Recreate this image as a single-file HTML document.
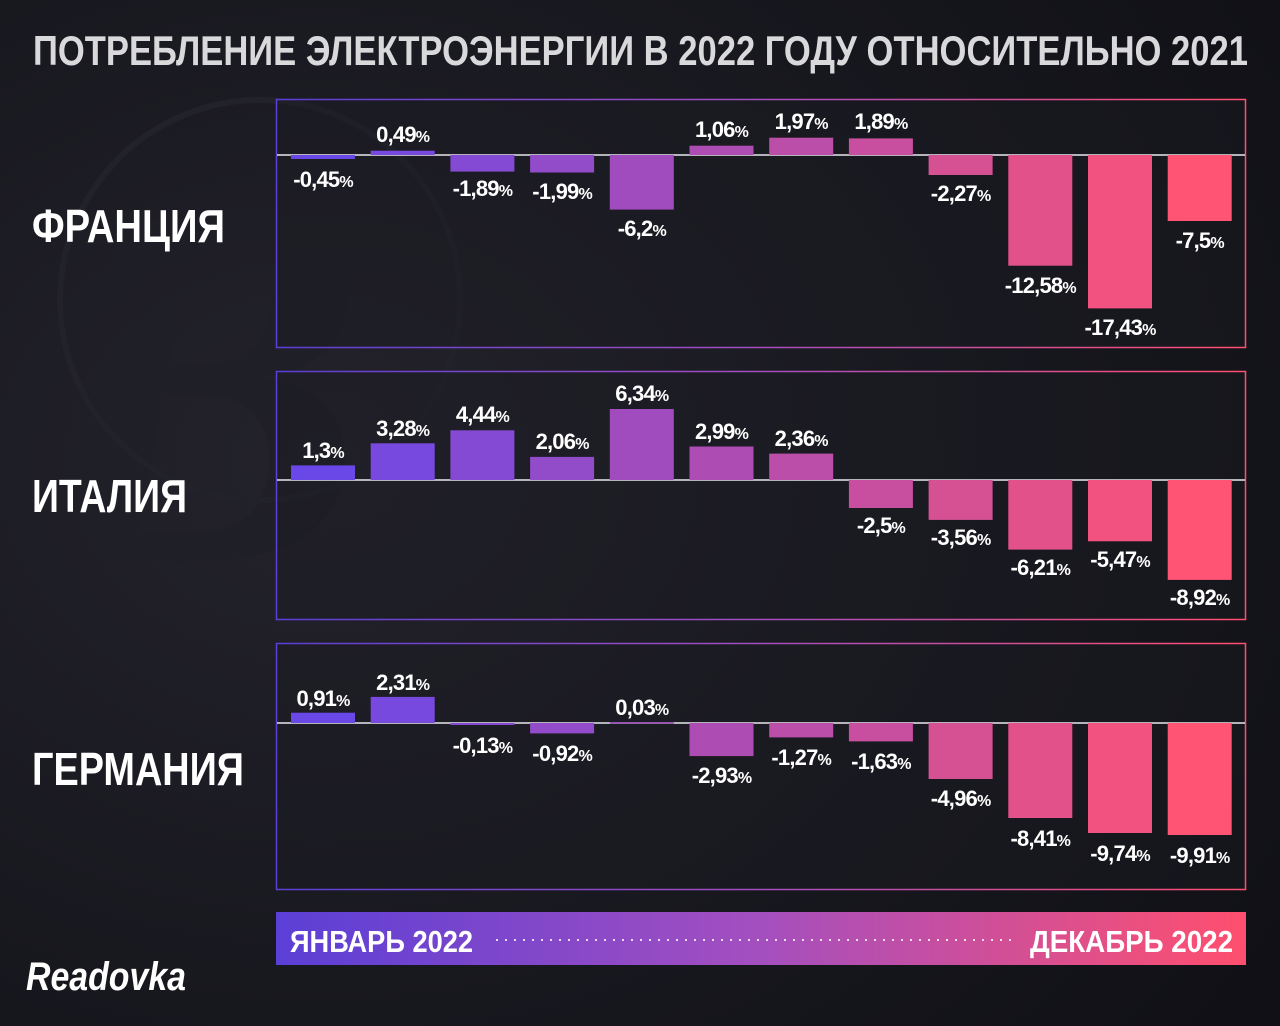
<!DOCTYPE html>
<html><head><meta charset="utf-8">
<style>
html,body{margin:0;padding:0;background:#14141b;}
svg{display:block;}
.t{font-family:"Liberation Sans Narrow","Liberation Sans",sans-serif;font-weight:bold;fill:#fff;}
</style></head>
<body>
<svg width="1280" height="1026" viewBox="0 0 1280 1026" xmlns="http://www.w3.org/2000/svg">
<defs>
<radialGradient id="bg" cx="0.25" cy="0.45" r="0.9">
<stop offset="0" stop-color="#24232c"/><stop offset="0.6" stop-color="#17171e"/><stop offset="1" stop-color="#101016"/>
</radialGradient>
<linearGradient id="hg" x1="0" x2="1" y1="0" y2="0">
<stop offset="0" stop-color="#5b3fd6"/><stop offset="0.5" stop-color="#a44fbf"/><stop offset="1" stop-color="#ff4f6e"/>
</linearGradient>
</defs>
<rect width="1280" height="1026" fill="url(#bg)"/>
<text x="20" y="560" font-family="Liberation Serif,serif" font-style="italic" font-weight="bold" font-size="520" fill="#1f1f27" opacity="0.7">B</text>
<circle cx="260" cy="300" r="200" fill="none" stroke="#22222a" stroke-width="6"/>

<text x="33" y="65" class="t" style="fill:#d9d9dc" font-size="42" textLength="1215" lengthAdjust="spacingAndGlyphs">ПОТРЕБЛЕНИЕ ЭЛЕКТРОЭНЕРГИИ В 2022 ГОДУ ОТНОСИТЕЛЬНО 2021</text>

<g class="t" font-size="46">
<text x="32" y="242" textLength="193" lengthAdjust="spacingAndGlyphs">ФРАНЦИЯ</text>
<text x="32" y="512" textLength="155" lengthAdjust="spacingAndGlyphs">ИТАЛИЯ</text>
<text x="32" y="785" textLength="212" lengthAdjust="spacingAndGlyphs">ГЕРМАНИЯ</text>
</g>

<!-- panels -->
<g fill="#1b1b22" fill-opacity="0.4" stroke="url(#hg)" stroke-width="1.5">
<rect x="276.5" y="99.5" width="969" height="248"/>
<rect x="276.5" y="371.5" width="969" height="248"/>
<rect x="276.5" y="643.5" width="969" height="246"/>
</g>
<g stroke="#e8e8ee" stroke-width="1.5">
<line x1="277" x2="1245" y1="155" y2="155"/>
<line x1="277" x2="1245" y1="480" y2="480"/>
<line x1="277" x2="1245" y1="723" y2="723"/>
</g>

<!-- FRANCE -->
<g>
<rect x="291" y="155" width="64" height="4" fill="#6a48e8"/>
<rect x="370.7" y="150.7" width="64" height="4.3" fill="#7749de"/>
<rect x="450.4" y="155" width="64" height="16.6" fill="#854ad3"/>
<rect x="530.1" y="155" width="64" height="17.5" fill="#924bc9"/>
<rect x="609.8" y="155" width="64" height="54.6" fill="#a04cbe"/>
<rect x="689.5" y="145.7" width="64" height="9.3" fill="#ad4db4"/>
<rect x="769.2" y="137.7" width="64" height="17.3" fill="#bb4ea9"/>
<rect x="848.9" y="138.4" width="64" height="16.6" fill="#c84f9f"/>
<rect x="928.6" y="155" width="64" height="20" fill="#d65094"/>
<rect x="1008.3" y="155" width="64" height="110.7" fill="#e3518a"/>
<rect x="1088" y="155" width="64" height="153.4" fill="#f1527f"/>
<rect x="1167.7" y="155" width="64" height="66" fill="#ff5474"/>
</g>
<g class="t" font-size="22" text-anchor="middle" letter-spacing="-0.8">
<text x="323" y="187">-0,45<tspan font-size="16">%</tspan></text>
<text x="402.7" y="142">0,49<tspan font-size="16">%</tspan></text>
<text x="482.4" y="196">-1,89<tspan font-size="16">%</tspan></text>
<text x="562.1" y="199">-1,99<tspan font-size="16">%</tspan></text>
<text x="641.8" y="236">-6,2<tspan font-size="16">%</tspan></text>
<text x="721.5" y="137">1,06<tspan font-size="16">%</tspan></text>
<text x="801.2" y="129">1,97<tspan font-size="16">%</tspan></text>
<text x="880.9" y="129">1,89<tspan font-size="16">%</tspan></text>
<text x="960.6" y="201">-2,27<tspan font-size="16">%</tspan></text>
<text x="1040.3" y="293">-12,58<tspan font-size="16">%</tspan></text>
<text x="1120" y="335">-17,43<tspan font-size="16">%</tspan></text>
<text x="1199.7" y="248">-7,5<tspan font-size="16">%</tspan></text>
</g>

<!-- ITALY -->
<g>
<rect x="291" y="465.4" width="64" height="14.6" fill="#6a48e8"/>
<rect x="370.7" y="443.3" width="64" height="36.7" fill="#7749de"/>
<rect x="450.4" y="430.3" width="64" height="49.7" fill="#854ad3"/>
<rect x="530.1" y="456.9" width="64" height="23.1" fill="#924bc9"/>
<rect x="609.8" y="409" width="64" height="71" fill="#a04cbe"/>
<rect x="689.5" y="446.5" width="64" height="33.5" fill="#ad4db4"/>
<rect x="769.2" y="453.6" width="64" height="26.4" fill="#bb4ea9"/>
<rect x="848.9" y="480" width="64" height="28" fill="#c84f9f"/>
<rect x="928.6" y="480" width="64" height="39.9" fill="#d65094"/>
<rect x="1008.3" y="480" width="64" height="69.6" fill="#e3518a"/>
<rect x="1088" y="480" width="64" height="61.3" fill="#f1527f"/>
<rect x="1167.7" y="480" width="64" height="99.9" fill="#ff5474"/>
</g>
<g class="t" font-size="22" text-anchor="middle" letter-spacing="-0.8">
<text x="323" y="458">1,3<tspan font-size="16">%</tspan></text>
<text x="402.7" y="436">3,28<tspan font-size="16">%</tspan></text>
<text x="482.4" y="422">4,44<tspan font-size="16">%</tspan></text>
<text x="562.1" y="449">2,06<tspan font-size="16">%</tspan></text>
<text x="641.8" y="401">6,34<tspan font-size="16">%</tspan></text>
<text x="721.5" y="439">2,99<tspan font-size="16">%</tspan></text>
<text x="801.2" y="446">2,36<tspan font-size="16">%</tspan></text>
<text x="880.9" y="533">-2,5<tspan font-size="16">%</tspan></text>
<text x="960.6" y="545">-3,56<tspan font-size="16">%</tspan></text>
<text x="1040.3" y="575">-6,21<tspan font-size="16">%</tspan></text>
<text x="1120" y="567">-5,47<tspan font-size="16">%</tspan></text>
<text x="1199.7" y="605">-8,92<tspan font-size="16">%</tspan></text>
</g>

<!-- GERMANY -->
<g>
<rect x="291" y="712.7" width="64" height="10.3" fill="#6a48e8"/>
<rect x="370.7" y="696.9" width="64" height="26.1" fill="#7749de"/>
<rect x="450.4" y="723" width="64" height="2" fill="#854ad3"/>
<rect x="530.1" y="723" width="64" height="10.4" fill="#924bc9"/>
<rect x="609.8" y="722" width="64" height="1.5" fill="#a04cbe"/>
<rect x="689.5" y="723" width="64" height="33.1" fill="#ad4db4"/>
<rect x="769.2" y="723" width="64" height="14.4" fill="#bb4ea9"/>
<rect x="848.9" y="723" width="64" height="18.4" fill="#c84f9f"/>
<rect x="928.6" y="723" width="64" height="56" fill="#d65094"/>
<rect x="1008.3" y="723" width="64" height="95" fill="#e3518a"/>
<rect x="1088" y="723" width="64" height="110" fill="#f1527f"/>
<rect x="1167.7" y="723" width="64" height="112" fill="#ff5474"/>
</g>
<g class="t" font-size="22" text-anchor="middle" letter-spacing="-0.8">
<text x="323" y="706">0,91<tspan font-size="16">%</tspan></text>
<text x="402.7" y="690">2,31<tspan font-size="16">%</tspan></text>
<text x="482.4" y="753">-0,13<tspan font-size="16">%</tspan></text>
<text x="562.1" y="761">-0,92<tspan font-size="16">%</tspan></text>
<text x="641.8" y="715">0,03<tspan font-size="16">%</tspan></text>
<text x="721.5" y="783">-2,93<tspan font-size="16">%</tspan></text>
<text x="801.2" y="765">-1,27<tspan font-size="16">%</tspan></text>
<text x="880.9" y="769">-1,63<tspan font-size="16">%</tspan></text>
<text x="960.6" y="806">-4,96<tspan font-size="16">%</tspan></text>
<text x="1040.3" y="846">-8,41<tspan font-size="16">%</tspan></text>
<text x="1120" y="861">-9,74<tspan font-size="16">%</tspan></text>
<text x="1199.7" y="863">-9,91<tspan font-size="16">%</tspan></text>
</g>

<!-- bottom bar -->
<rect x="276" y="912" width="970" height="53" fill="url(#hg)"/>
<line x1="496" x2="1012" y1="940" y2="940" stroke="#ffffff" stroke-opacity="0.8" stroke-width="2" stroke-dasharray="2 7"/>
<g class="t" font-size="31">
<text x="290" y="952" textLength="183" lengthAdjust="spacingAndGlyphs">ЯНВАРЬ 2022</text>
<text x="1030" y="952" textLength="203" lengthAdjust="spacingAndGlyphs">ДЕКАБРЬ 2022</text>
</g>

<!-- logo -->
<text x="26" y="990" font-family="Liberation Sans,sans-serif" font-weight="bold" font-style="italic" font-size="40" fill="#fff" textLength="160" lengthAdjust="spacingAndGlyphs">Readovka</text>
</svg>
</body></html>
